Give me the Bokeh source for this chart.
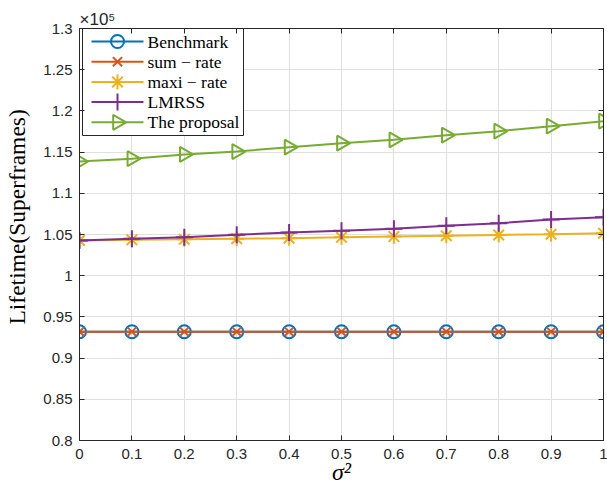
import numpy as np
from bokeh.plotting import figure
from bokeh.models import Range1d, FixedTicker, CustomJSTickFormatter, LinearAxis, Title
from bokeh.embed import file_html
from bokeh.resources import INLINE
from bokeh.core.properties import value

# ---------------- data ----------------
sigma2 = [0.0, 0.1, 0.2, 0.3, 0.4, 0.5, 0.6, 0.7, 0.8, 0.9, 1.0]
benchmark = [93200, 93200, 93200, 93200, 93200, 93200, 93200, 93200, 93200, 93200, 93200]
sum_rate = [93200, 93200, 93200, 93200, 93200, 93200, 93200, 93200, 93200, 93200, 93200]
maxi_rate = [104270, 104350, 104420, 104490, 104560, 104660, 104750, 104850, 104940, 105040, 105160]
lmrss = [104270, 104480, 104670, 104960, 105240, 105450, 105690, 106060, 106370, 106820, 107100]
proposal = [113860, 114200, 114710, 115070, 115590, 116080, 116490, 117050, 117540, 118140, 118750]

x_ticks = [0, 0.1, 0.2, 0.3, 0.4, 0.5, 0.6, 0.7, 0.8, 0.9, 1.0]
y_ticks = [80000, 85000, 90000, 95000, 100000, 105000, 110000, 115000, 120000, 125000, 130000]
series_names = ["Benchmark", "sum \u2212 rate", "maxi \u2212 rate", "LMRSS", "The proposal"]
x_label = "\u03c3\u00b2"
y_label = "Lifetime(Superframes)"
y_multiplier = "\u00d710\u2075"

# ---------------- styles ----------------
colors = ["#0072BD", "#D95319", "#EDB120", "#7E2F8E", "#77AC30"]
markers = ["circle", "x", "asterisk", "cross", "triangle"]
msizes = [13, 13, 15, 17, 15]
angles = [0, 0, 0, 0, -np.pi / 2]
series = [benchmark, sum_rate, maxi_rate, lmrss, proposal]

FRAME_W, FRAME_H = 524, 412
AX = "#262626"

p = figure(width=607, height=489, x_range=Range1d(0, 1), y_range=Range1d(80000, 130000),
           output_backend="svg", toolbar_location=None,
           min_border_left=79, min_border_right=4, min_border_top=28, min_border_bottom=49)
p.background_fill_color = "white"
p.border_fill_color = "white"
p.outline_line_color = None

# pixel-space ranges for the legend box (y downwards from frame top)
p.extra_x_ranges = {"lx": Range1d(0, FRAME_W)}
p.extra_y_ranges = {"ly": Range1d(FRAME_H, 0)}

xfmt = CustomJSTickFormatter(code="return parseFloat(tick.toFixed(2)).toString();")
yfmt = CustomJSTickFormatter(code="return parseFloat((tick/1e5).toFixed(2)).toString();")

p.xaxis.ticker = FixedTicker(ticks=x_ticks)
p.xaxis.formatter = xfmt
p.yaxis.ticker = FixedTicker(ticks=y_ticks)
p.yaxis.formatter = yfmt
for ax in [p.xaxis[0], p.yaxis[0]]:
    ax.axis_line_color = AX
    ax.major_tick_line_color = AX
    ax.major_tick_in = 5
    ax.major_tick_out = 0
    ax.minor_tick_line_color = None
    ax.major_label_text_font = "Liberation Sans"
    ax.major_label_text_font_size = "15px"
    ax.major_label_text_color = AX
    ax.axis_label_text_font = "Liberation Serif"
    ax.axis_label_text_color = "black"
p.xaxis.major_label_standoff = 8
p.yaxis.major_label_standoff = 7

# leading no-break spaces shift the centred label up, as in the reference
p.yaxis.axis_label = "\u00a0" * 6 + y_label
p.yaxis.axis_label_text_font_size = "23.5px"
p.yaxis.axis_label_text_font_style = "normal"
p.yaxis.axis_label_standoff = 10

p.xaxis.axis_label = x_label
p.xaxis.axis_label_text_font_size = "24px"
p.xaxis.axis_label_text_font_style = "italic"
p.xaxis.axis_label_standoff = -3

blank = CustomJSTickFormatter(code="return '';")
ax_r = LinearAxis(ticker=FixedTicker(ticks=y_ticks), formatter=blank, major_tick_in=5, major_tick_out=0,
                  minor_tick_line_color=None, major_label_standoff=0, axis_line_color=AX,
                  major_tick_line_color=AX, major_label_text_font_size="0px")
ax_t = LinearAxis(ticker=FixedTicker(ticks=x_ticks), formatter=blank, major_tick_in=5, major_tick_out=0,
                  minor_tick_line_color=None, major_label_standoff=0, axis_line_color=AX,
                  major_tick_line_color=AX, major_label_text_font_size="0px")
p.add_layout(ax_r, "right")
p.add_layout(ax_t, "above")

p.add_layout(Title(text=y_multiplier, align="left", text_font="Liberation Sans", text_font_size="17px",
                   text_font_style="normal", text_color=AX, standoff=0, offset=0), "above")

p.xgrid.ticker = FixedTicker(ticks=x_ticks)
p.ygrid.ticker = FixedTicker(ticks=y_ticks)
p.grid.grid_line_color = "#e0e0e0"
p.grid.grid_line_width = 1

# ---------------- data series ----------------
for ys, c, m, s, a in zip(series, colors, markers, msizes, angles):
    p.line(sigma2, ys, line_color=c, line_width=2)
    p.scatter(sigma2, ys, marker=m, size=s, angle=a, line_color=c, fill_color=None, line_width=2)

# ---------------- legend (pixel coords inside frame) ----------------
leg_l, leg_r, leg_t, leg_b = 3, 164, 0, 107
p.quad(left=[leg_l], right=[leg_r], top=[leg_t], bottom=[leg_b], x_range_name="lx", y_range_name="ly",
       fill_color="white", line_color=AX, line_width=1)
leg_y = [13 + 20.2 * i for i in range(5)]
for i, (c, m, s, a) in enumerate(zip(colors, markers, msizes, angles)):
    p.line([12, 64], [leg_y[i], leg_y[i]], x_range_name="lx", y_range_name="ly", line_color=c, line_width=2)
    p.scatter([38], [leg_y[i]], x_range_name="lx", y_range_name="ly", marker=m, size=s, angle=a,
              line_color=c, fill_color=None, line_width=2)
p.text(x=[68] * 5, y=leg_y, text=series_names, x_range_name="lx", y_range_name="ly",
       text_font=value("Liberation Serif"), text_font_size="17.5px", text_baseline="middle",
       text_align="left", text_color="black")

open("out.html", "w").write(file_html(p, INLINE))
